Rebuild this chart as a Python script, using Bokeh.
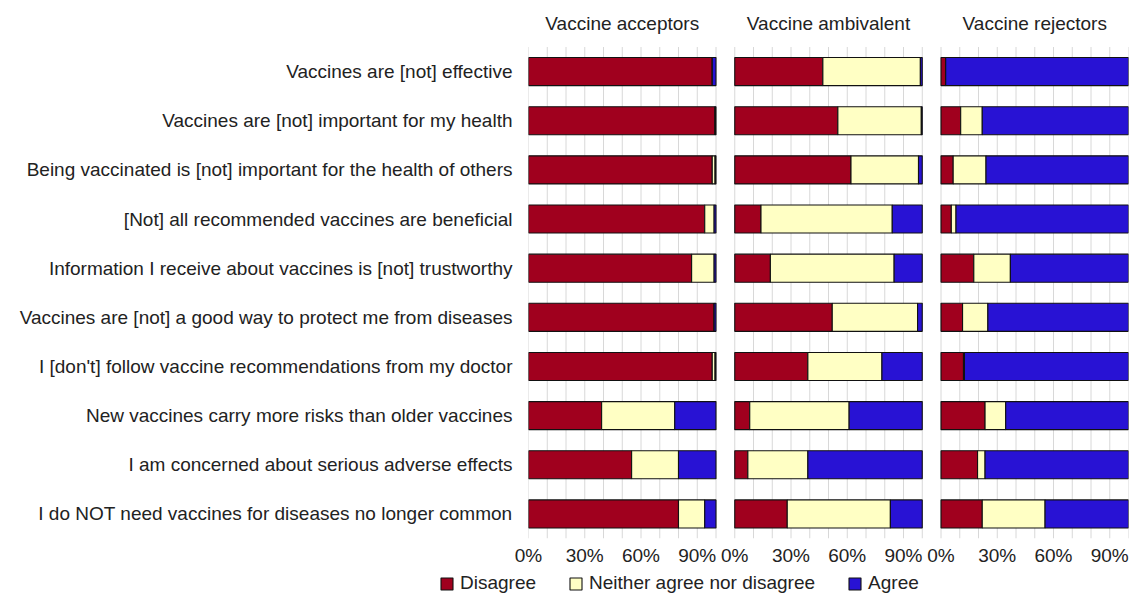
from bokeh.plotting import figure
from bokeh.models import (Range1d, FixedTicker, Legend, LegendItem, Label)
from bokeh.layouts import column
from bokeh.embed import file_html
from bokeh.resources import INLINE

categories = [
    "Vaccines are [not] effective",
    "Vaccines are [not] important for my health",
    "Being vaccinated is [not] important for the health of others",
    "[Not] all recommended vaccines are beneficial",
    "Information I receive about vaccines is [not] trustworthy",
    "Vaccines are [not] a good way to protect me from diseases",
    "I [don't] follow vaccine recommendations from my doctor",
    "New vaccines carry more risks than older vaccines",
    "I am concerned about serious adverse effects",
    "I do NOT need vaccines for diseases no longer common",
]
groups = ["Vaccine acceptors", "Vaccine ambivalent", "Vaccine rejectors"]
responses = ["Disagree", "Neither agree nor disagree", "Agree"]

acc_disagree = [98, 99.5, 98, 94, 87, 99, 98, 39, 55, 80]
acc_neither = [0, 0, 1.5, 5, 12, 0, 1.5, 39, 25, 14]
acc_agree = [2, 0.5, 0.5, 1, 1, 1, 0.5, 22, 20, 6]

amb_disagree = [47, 55, 62, 14, 19, 52, 39, 8, 7, 28]
amb_neither = [52, 44.5, 36, 70, 66, 45.5, 39.5, 53, 32, 55]
amb_agree = [1, 0.5, 2, 16, 15, 2.5, 21.5, 39, 61, 17]

rej_disagree = [2.5, 10.5, 6.5, 5.5, 17.5, 11.5, 12, 23.5, 19.5, 22]
rej_neither = [0, 11.5, 17.5, 2.5, 19.5, 13.5, 0.5, 11, 4, 33.5]
rej_agree = [97.5, 78, 76, 92, 63, 75, 87.5, 65.5, 76.5, 44.5]

tick_values = [0, 30, 60, 90]
tick_labels = ["0%", "30%", "60%", "90%"]

colors = ["#A0001E", "#FFFFC4", "#2812D4"]
FONT = "Liberation Sans"
TXT = "#222222"
GAP = 0.1
GRID = "#d8d8d8"
OUTLINE = "#111111"

panel_data = [
    [acc_disagree, acc_neither, acc_agree],
    [amb_disagree, amb_neither, amb_agree],
    [rej_disagree, rej_neither, rej_agree],
]
n = len(categories)
offsets = [i * (1 + GAP) for i in range(len(groups))]
ypos = [n - i for i in range(n)]          # first statement on top

FRAME_H = 538
BAR_TOP = 46.5                             # px from frame top where row area begins
row_px = (FRAME_H - BAR_TOP) / n
y_top = n + 0.5 + BAR_TOP / row_px

p = figure(
    width=1139, height=568,
    x_range=Range1d(0, offsets[-1] + 1),
    y_range=Range1d(0.5, y_top),
    output_backend="svg", toolbar_location=None,
    min_border_left=528, min_border_right=11,
    min_border_top=0, min_border_bottom=30,
)
p.frame_align = False
p.outline_line_color = None
p.background_fill_color = "white"
p.xgrid.grid_line_color = None
p.ygrid.grid_line_color = None

# grid lines every 10% inside each panel, only over the rows area
grid_x = [off + k / 10.0 for off in offsets for k in range(11)]
p.segment(x0=grid_x, x1=grid_x, y0=[0.5] * len(grid_x), y1=[n + 0.5] * len(grid_x),
          line_color=GRID, line_width=1)

for gi, series in enumerate(panel_data):
    off = offsets[gi]
    cum = [0.0] * n
    for si, vals in enumerate(series):
        left = [off + c / 100.0 for c in cum]
        cum = [c + v for c, v in zip(cum, vals)]
        right = [off + c / 100.0 for c in cum]
        p.hbar(y=ypos, left=left, right=right, height=0.57,
               fill_color=colors[si], line_color=OUTLINE, line_width=1.1)
    p.add_layout(Label(x=off + 0.5, y=n + 0.5 + (BAR_TOP - 23) / row_px, text=groups[gi],
                       text_align="center", text_baseline="middle",
                       text_font=FONT, text_font_size="19px", text_color=TXT))

axis_ticks = []
overrides = {}
for off in offsets:
    for v, lab in zip(tick_values, tick_labels):
        t = round(off + v / 100.0, 4)
        axis_ticks.append(t)
        overrides[t] = lab
p.xaxis.ticker = FixedTicker(ticks=axis_ticks)
p.xaxis.major_label_overrides = overrides
p.xaxis.axis_line_color = None
p.xaxis.major_tick_line_color = None
p.xaxis.minor_tick_line_color = None
p.xaxis.major_tick_out = 0
p.xaxis.major_tick_in = 0
p.xaxis.major_label_standoff = 6
p.xaxis.major_label_text_font = FONT
p.xaxis.major_label_text_font_size = "19px"
p.xaxis.major_label_text_color = TXT

p.yaxis.ticker = FixedTicker(ticks=ypos)
p.yaxis.major_label_overrides = {y: c for y, c in zip(ypos, categories)}
p.yaxis.axis_line_color = None
p.yaxis.major_tick_line_color = None
p.yaxis.minor_tick_line_color = None
p.yaxis.major_tick_out = 0
p.yaxis.major_tick_in = 0
p.yaxis.major_label_standoff = 16
p.yaxis.major_label_text_font = FONT
p.yaxis.major_label_text_font_size = "19px"
p.yaxis.major_label_text_color = TXT

# legend strip below (proxy renderers sit outside the strip's visible range)
lf = figure(width=1139, height=30, x_range=Range1d(0, 1139), y_range=Range1d(0, 30),
            x_axis_type=None, y_axis_type=None,
            output_backend="svg", toolbar_location=None,
            min_border_left=0, min_border_right=0, min_border_top=0, min_border_bottom=0)
lf.frame_align = False
lf.outline_line_color = None
lf.xgrid.grid_line_color = None
lf.ygrid.grid_line_color = None
proxies = [lf.hbar(y=[-100], left=[0], right=[1], height=1, fill_color=c,
                   line_color=OUTLINE, line_width=1.1) for c in colors]
legend = Legend(
    items=[LegendItem(label=lab, renderers=[r]) for lab, r in zip(responses, proxies)],
    orientation="horizontal", location=(439, 4),
    padding=0, margin=0, spacing=32, label_standoff=6,
    glyph_width=15, glyph_height=15,
    label_text_font=FONT, label_text_font_size="19px", label_text_color=TXT,
    border_line_alpha=0, background_fill_alpha=0,
)
lf.add_layout(legend, "center")

layout = column(p, lf, spacing=0)
open("out.html", "w").write(file_html(layout, INLINE))
